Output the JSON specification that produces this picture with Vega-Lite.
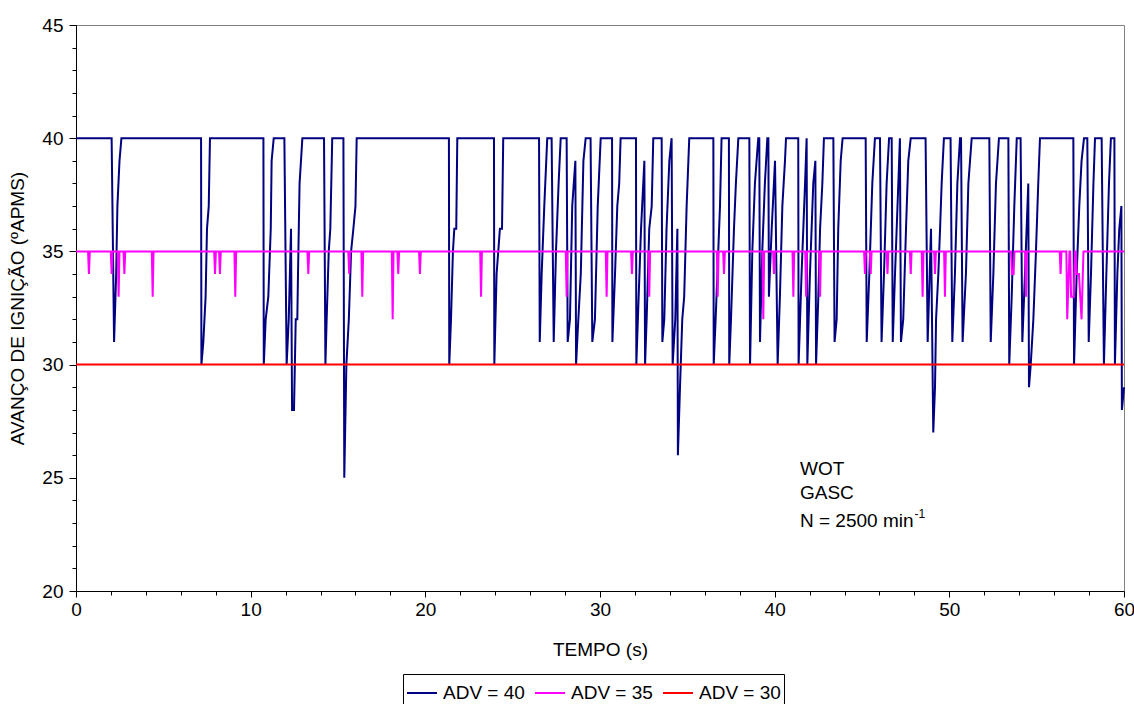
{
  "$schema": "https://vega.github.io/schema/vega-lite/v6.json",
  "width": 1048,
  "height": 566,
  "autosize": "none",
  "padding": {"left": 76, "top": 25, "right": 10, "bottom": 113},
  "background": "white",
  "config": {
    "font": "Liberation Sans",
    "view": {"stroke": "#808080", "strokeWidth": 1},
    "axis": {"grid": false, "domainColor": "black", "tickColor": "black", "labelColor": "black", "titleColor": "black", "titleFontWeight": "normal", "labelFontSize": 19, "titleFontSize": 19, "labelFlush": false, "labelOverlap": false}
  },
  "datasets": {
    "blue": [
      {"s":"ADV = 40","t":0,"v":40},
      {"s":"ADV = 40","t":2.04,"v":40},{"s":"ADV = 40","t":2.18,"v":31},{"s":"ADV = 40","t":2.3,"v":34},{"s":"ADV = 40","t":2.37,"v":37},{"s":"ADV = 40","t":2.49,"v":39},{"s":"ADV = 40","t":2.6,"v":40},
      {"s":"ADV = 40","t":7.16,"v":40},{"s":"ADV = 40","t":7.18,"v":30},{"s":"ADV = 40","t":7.29,"v":31},{"s":"ADV = 40","t":7.42,"v":33},{"s":"ADV = 40","t":7.5,"v":36},{"s":"ADV = 40","t":7.6,"v":37},{"s":"ADV = 40","t":7.67,"v":40},
      {"s":"ADV = 40","t":10.73,"v":40},{"s":"ADV = 40","t":10.75,"v":30},{"s":"ADV = 40","t":10.86,"v":32},{"s":"ADV = 40","t":11.01,"v":33},{"s":"ADV = 40","t":11.15,"v":36},{"s":"ADV = 40","t":11.2,"v":39},{"s":"ADV = 40","t":11.32,"v":40},
      {"s":"ADV = 40","t":11.93,"v":40},{"s":"ADV = 40","t":12.06,"v":30},{"s":"ADV = 40","t":12.18,"v":32},{"s":"ADV = 40","t":12.31,"v":36},{"s":"ADV = 40","t":12.37,"v":28},{"s":"ADV = 40","t":12.48,"v":28},{"s":"ADV = 40","t":12.58,"v":32},{"s":"ADV = 40","t":12.67,"v":32},{"s":"ADV = 40","t":12.71,"v":34},{"s":"ADV = 40","t":12.8,"v":38},{"s":"ADV = 40","t":12.96,"v":40},
      {"s":"ADV = 40","t":14.2,"v":40},{"s":"ADV = 40","t":14.28,"v":30},{"s":"ADV = 40","t":14.35,"v":32},{"s":"ADV = 40","t":14.47,"v":35},{"s":"ADV = 40","t":14.56,"v":36},{"s":"ADV = 40","t":14.67,"v":40},
      {"s":"ADV = 40","t":15.31,"v":40},{"s":"ADV = 40","t":15.36,"v":25},{"s":"ADV = 40","t":15.48,"v":30},{"s":"ADV = 40","t":15.62,"v":32},{"s":"ADV = 40","t":15.75,"v":35},{"s":"ADV = 40","t":15.88,"v":36},{"s":"ADV = 40","t":16.0,"v":37},{"s":"ADV = 40","t":16.07,"v":40},
      {"s":"ADV = 40","t":21.35,"v":40},{"s":"ADV = 40","t":21.37,"v":30},{"s":"ADV = 40","t":21.47,"v":32},{"s":"ADV = 40","t":21.58,"v":35},{"s":"ADV = 40","t":21.66,"v":36},{"s":"ADV = 40","t":21.77,"v":36},{"s":"ADV = 40","t":21.83,"v":40},
      {"s":"ADV = 40","t":23.93,"v":40},{"s":"ADV = 40","t":23.95,"v":30},{"s":"ADV = 40","t":24.08,"v":34},{"s":"ADV = 40","t":24.27,"v":36},{"s":"ADV = 40","t":24.39,"v":36},{"s":"ADV = 40","t":24.46,"v":40},
      {"s":"ADV = 40","t":26.51,"v":40},{"s":"ADV = 40","t":26.55,"v":31},{"s":"ADV = 40","t":26.66,"v":34},{"s":"ADV = 40","t":26.81,"v":37},{"s":"ADV = 40","t":26.98,"v":40},
      {"s":"ADV = 40","t":27.23,"v":40},{"s":"ADV = 40","t":27.35,"v":31},{"s":"ADV = 40","t":27.48,"v":35},{"s":"ADV = 40","t":27.63,"v":38},{"s":"ADV = 40","t":27.75,"v":40},
      {"s":"ADV = 40","t":28.09,"v":40},{"s":"ADV = 40","t":28.15,"v":31},{"s":"ADV = 40","t":28.28,"v":32},{"s":"ADV = 40","t":28.41,"v":37},{"s":"ADV = 40","t":28.59,"v":39},{"s":"ADV = 40","t":28.63,"v":30},{"s":"ADV = 40","t":28.76,"v":32},{"s":"ADV = 40","t":28.9,"v":34},{"s":"ADV = 40","t":29.05,"v":39},{"s":"ADV = 40","t":29.18,"v":40},
      {"s":"ADV = 40","t":29.46,"v":40},{"s":"ADV = 40","t":29.56,"v":31},{"s":"ADV = 40","t":29.71,"v":32},{"s":"ADV = 40","t":29.87,"v":37},{"s":"ADV = 40","t":30.04,"v":40},
      {"s":"ADV = 40","t":30.69,"v":40},{"s":"ADV = 40","t":30.71,"v":31},{"s":"ADV = 40","t":30.86,"v":34},{"s":"ADV = 40","t":30.99,"v":37},{"s":"ADV = 40","t":31.1,"v":38},{"s":"ADV = 40","t":31.18,"v":40},
      {"s":"ADV = 40","t":32.06,"v":40},{"s":"ADV = 40","t":32.08,"v":30},{"s":"ADV = 40","t":32.19,"v":32.5},{"s":"ADV = 40","t":32.35,"v":36},{"s":"ADV = 40","t":32.54,"v":39},{"s":"ADV = 40","t":32.58,"v":30},{"s":"ADV = 40","t":32.67,"v":32},{"s":"ADV = 40","t":32.82,"v":36},{"s":"ADV = 40","t":32.96,"v":37},{"s":"ADV = 40","t":33.05,"v":40},
      {"s":"ADV = 40","t":33.53,"v":40},{"s":"ADV = 40","t":33.57,"v":31},{"s":"ADV = 40","t":33.68,"v":32},{"s":"ADV = 40","t":33.81,"v":36},{"s":"ADV = 40","t":33.97,"v":39},{"s":"ADV = 40","t":34.1,"v":40},{"s":"ADV = 40","t":34.16,"v":30},{"s":"ADV = 40","t":34.31,"v":32},{"s":"ADV = 40","t":34.43,"v":36},{"s":"ADV = 40","t":34.46,"v":26},{"s":"ADV = 40","t":34.58,"v":29},{"s":"ADV = 40","t":34.71,"v":32},{"s":"ADV = 40","t":34.82,"v":33},{"s":"ADV = 40","t":34.96,"v":37},{"s":"ADV = 40","t":35.06,"v":39},{"s":"ADV = 40","t":35.11,"v":40},
      {"s":"ADV = 40","t":36.49,"v":40},{"s":"ADV = 40","t":36.51,"v":30},{"s":"ADV = 40","t":36.62,"v":32},{"s":"ADV = 40","t":36.77,"v":35},{"s":"ADV = 40","t":36.87,"v":37},{"s":"ADV = 40","t":36.96,"v":40},
      {"s":"ADV = 40","t":37.38,"v":40},{"s":"ADV = 40","t":37.4,"v":30},{"s":"ADV = 40","t":37.5,"v":32},{"s":"ADV = 40","t":37.67,"v":36},{"s":"ADV = 40","t":37.78,"v":38},{"s":"ADV = 40","t":37.92,"v":40},
      {"s":"ADV = 40","t":38.55,"v":40},{"s":"ADV = 40","t":38.59,"v":30},{"s":"ADV = 40","t":38.72,"v":35},{"s":"ADV = 40","t":38.87,"v":38},{"s":"ADV = 40","t":39.06,"v":40},{"s":"ADV = 40","t":39.12,"v":40},{"s":"ADV = 40","t":39.16,"v":31},{"s":"ADV = 40","t":39.29,"v":35},{"s":"ADV = 40","t":39.44,"v":38},{"s":"ADV = 40","t":39.58,"v":40},{"s":"ADV = 40","t":39.64,"v":40},{"s":"ADV = 40","t":39.67,"v":33},{"s":"ADV = 40","t":39.83,"v":36},{"s":"ADV = 40","t":40.02,"v":39},{"s":"ADV = 40","t":40.17,"v":30},{"s":"ADV = 40","t":40.3,"v":33},{"s":"ADV = 40","t":40.44,"v":37},{"s":"ADV = 40","t":40.59,"v":39},{"s":"ADV = 40","t":40.65,"v":40},
      {"s":"ADV = 40","t":41.35,"v":40},{"s":"ADV = 40","t":41.37,"v":30},{"s":"ADV = 40","t":41.54,"v":34},{"s":"ADV = 40","t":41.74,"v":38},{"s":"ADV = 40","t":41.83,"v":40},{"s":"ADV = 40","t":41.87,"v":30},{"s":"ADV = 40","t":42.02,"v":34},{"s":"ADV = 40","t":42.21,"v":38},{"s":"ADV = 40","t":42.33,"v":39},{"s":"ADV = 40","t":42.37,"v":30},{"s":"ADV = 40","t":42.5,"v":33},{"s":"ADV = 40","t":42.6,"v":36},{"s":"ADV = 40","t":42.73,"v":38},{"s":"ADV = 40","t":42.82,"v":40},
      {"s":"ADV = 40","t":43.36,"v":40},{"s":"ADV = 40","t":43.43,"v":31},{"s":"ADV = 40","t":43.55,"v":32},{"s":"ADV = 40","t":43.64,"v":36},{"s":"ADV = 40","t":43.78,"v":39},{"s":"ADV = 40","t":43.89,"v":40},
      {"s":"ADV = 40","t":45.21,"v":40},{"s":"ADV = 40","t":45.27,"v":31},{"s":"ADV = 40","t":45.42,"v":34},{"s":"ADV = 40","t":45.59,"v":38},{"s":"ADV = 40","t":45.74,"v":40},
      {"s":"ADV = 40","t":46.03,"v":40},{"s":"ADV = 40","t":46.12,"v":31},{"s":"ADV = 40","t":46.26,"v":34},{"s":"ADV = 40","t":46.41,"v":38},{"s":"ADV = 40","t":46.55,"v":40},{"s":"ADV = 40","t":46.7,"v":40},{"s":"ADV = 40","t":46.76,"v":31},{"s":"ADV = 40","t":46.89,"v":34},{"s":"ADV = 40","t":47.08,"v":38},{"s":"ADV = 40","t":47.17,"v":40},{"s":"ADV = 40","t":47.23,"v":31},{"s":"ADV = 40","t":47.36,"v":32},{"s":"ADV = 40","t":47.52,"v":36},{"s":"ADV = 40","t":47.65,"v":39},{"s":"ADV = 40","t":47.79,"v":40},
      {"s":"ADV = 40","t":48.64,"v":40},{"s":"ADV = 40","t":48.76,"v":31},{"s":"ADV = 40","t":48.95,"v":36},{"s":"ADV = 40","t":49.08,"v":27},{"s":"ADV = 40","t":49.18,"v":29},{"s":"ADV = 40","t":49.24,"v":32},{"s":"ADV = 40","t":49.37,"v":34},{"s":"ADV = 40","t":49.47,"v":36},{"s":"ADV = 40","t":49.56,"v":38},{"s":"ADV = 40","t":49.69,"v":40},
      {"s":"ADV = 40","t":50.07,"v":40},{"s":"ADV = 40","t":50.17,"v":31},{"s":"ADV = 40","t":50.32,"v":34},{"s":"ADV = 40","t":50.46,"v":38},{"s":"ADV = 40","t":50.61,"v":40},
      {"s":"ADV = 40","t":50.67,"v":40},{"s":"ADV = 40","t":50.76,"v":31},{"s":"ADV = 40","t":50.95,"v":34},{"s":"ADV = 40","t":51.09,"v":38},{"s":"ADV = 40","t":51.28,"v":40},
      {"s":"ADV = 40","t":52.29,"v":40},{"s":"ADV = 40","t":52.37,"v":31},{"s":"ADV = 40","t":52.52,"v":34},{"s":"ADV = 40","t":52.67,"v":38},{"s":"ADV = 40","t":52.84,"v":40},
      {"s":"ADV = 40","t":53.38,"v":40},{"s":"ADV = 40","t":53.43,"v":30},{"s":"ADV = 40","t":53.57,"v":33},{"s":"ADV = 40","t":53.72,"v":37},{"s":"ADV = 40","t":53.86,"v":40},
      {"s":"ADV = 40","t":54.08,"v":40},{"s":"ADV = 40","t":54.18,"v":31},{"s":"ADV = 40","t":54.33,"v":34},{"s":"ADV = 40","t":54.52,"v":38},{"s":"ADV = 40","t":54.56,"v":29},{"s":"ADV = 40","t":54.66,"v":30},{"s":"ADV = 40","t":54.81,"v":32},{"s":"ADV = 40","t":54.96,"v":35},{"s":"ADV = 40","t":55.09,"v":38},{"s":"ADV = 40","t":55.19,"v":40},
      {"s":"ADV = 40","t":57.1,"v":40},{"s":"ADV = 40","t":57.14,"v":30},{"s":"ADV = 40","t":57.29,"v":34},{"s":"ADV = 40","t":57.44,"v":37},{"s":"ADV = 40","t":57.57,"v":39},{"s":"ADV = 40","t":57.71,"v":40},
      {"s":"ADV = 40","t":57.9,"v":40},{"s":"ADV = 40","t":57.98,"v":31},{"s":"ADV = 40","t":58.11,"v":34},{"s":"ADV = 40","t":58.25,"v":38},{"s":"ADV = 40","t":58.34,"v":40},
      {"s":"ADV = 40","t":58.72,"v":40},{"s":"ADV = 40","t":58.85,"v":30},{"s":"ADV = 40","t":58.99,"v":34},{"s":"ADV = 40","t":59.14,"v":38},{"s":"ADV = 40","t":59.25,"v":40},
      {"s":"ADV = 40","t":59.45,"v":40},{"s":"ADV = 40","t":59.48,"v":30},{"s":"ADV = 40","t":59.62,"v":34},{"s":"ADV = 40","t":59.73,"v":36},{"s":"ADV = 40","t":59.85,"v":37},{"s":"ADV = 40","t":59.88,"v":28},{"s":"ADV = 40","t":60,"v":29}
    ],
    "magenta": [
      {"s":"ADV = 35","t":0,"v":35},
      {"s":"ADV = 35","t":0.69,"v":35},{"s":"ADV = 35","t":0.74,"v":34},{"s":"ADV = 35","t":0.79,"v":35},
      {"s":"ADV = 35","t":1.99,"v":35},{"s":"ADV = 35","t":2.04,"v":34},{"s":"ADV = 35","t":2.09,"v":35},
      {"s":"ADV = 35","t":2.39,"v":35},{"s":"ADV = 35","t":2.44,"v":33},{"s":"ADV = 35","t":2.49,"v":35},
      {"s":"ADV = 35","t":2.72,"v":35},{"s":"ADV = 35","t":2.77,"v":34},{"s":"ADV = 35","t":2.82,"v":35},
      {"s":"ADV = 35","t":4.34,"v":35},{"s":"ADV = 35","t":4.39,"v":33},{"s":"ADV = 35","t":4.44,"v":35},
      {"s":"ADV = 35","t":7.91,"v":35},{"s":"ADV = 35","t":7.96,"v":34},{"s":"ADV = 35","t":8.01,"v":35},
      {"s":"ADV = 35","t":8.19,"v":35},{"s":"ADV = 35","t":8.24,"v":34},{"s":"ADV = 35","t":8.29,"v":35},
      {"s":"ADV = 35","t":9.07,"v":35},{"s":"ADV = 35","t":9.12,"v":33},{"s":"ADV = 35","t":9.17,"v":35},
      {"s":"ADV = 35","t":13.25,"v":35},{"s":"ADV = 35","t":13.3,"v":34},{"s":"ADV = 35","t":13.35,"v":35},
      {"s":"ADV = 35","t":15.59,"v":35},{"s":"ADV = 35","t":15.64,"v":34},{"s":"ADV = 35","t":15.69,"v":35},
      {"s":"ADV = 35","t":16.34,"v":35},{"s":"ADV = 35","t":16.39,"v":33},{"s":"ADV = 35","t":16.44,"v":35},
      {"s":"ADV = 35","t":18.08,"v":35},{"s":"ADV = 35","t":18.13,"v":32},{"s":"ADV = 35","t":18.18,"v":35},
      {"s":"ADV = 35","t":18.4,"v":35},{"s":"ADV = 35","t":18.45,"v":34},{"s":"ADV = 35","t":18.5,"v":35},
      {"s":"ADV = 35","t":19.64,"v":35},{"s":"ADV = 35","t":19.69,"v":34},{"s":"ADV = 35","t":19.74,"v":35},
      {"s":"ADV = 35","t":23.14,"v":35},{"s":"ADV = 35","t":23.19,"v":33},{"s":"ADV = 35","t":23.24,"v":35},
      {"s":"ADV = 35","t":28.04,"v":35},{"s":"ADV = 35","t":28.09,"v":33},{"s":"ADV = 35","t":28.14,"v":35},
      {"s":"ADV = 35","t":30.33,"v":35},{"s":"ADV = 35","t":30.38,"v":33},{"s":"ADV = 35","t":30.43,"v":35},
      {"s":"ADV = 35","t":31.78,"v":35},{"s":"ADV = 35","t":31.83,"v":34},{"s":"ADV = 35","t":31.88,"v":35},
      {"s":"ADV = 35","t":32.77,"v":35},{"s":"ADV = 35","t":32.82,"v":33},{"s":"ADV = 35","t":32.87,"v":35},
      {"s":"ADV = 35","t":36.69,"v":35},{"s":"ADV = 35","t":36.74,"v":33},{"s":"ADV = 35","t":36.79,"v":35},
      {"s":"ADV = 35","t":37.05,"v":35},{"s":"ADV = 35","t":37.1,"v":34},{"s":"ADV = 35","t":37.15,"v":35},
      {"s":"ADV = 35","t":39.3,"v":35},{"s":"ADV = 35","t":39.35,"v":32},{"s":"ADV = 35","t":39.4,"v":35},
      {"s":"ADV = 35","t":39.91,"v":35},{"s":"ADV = 35","t":39.96,"v":34},{"s":"ADV = 35","t":40.01,"v":35},
      {"s":"ADV = 35","t":41.02,"v":35},{"s":"ADV = 35","t":41.07,"v":33},{"s":"ADV = 35","t":41.12,"v":35},
      {"s":"ADV = 35","t":41.75,"v":35},{"s":"ADV = 35","t":41.8,"v":33},{"s":"ADV = 35","t":41.85,"v":35},
      {"s":"ADV = 35","t":42.55,"v":35},{"s":"ADV = 35","t":42.6,"v":33},{"s":"ADV = 35","t":42.65,"v":35},
      {"s":"ADV = 35","t":45.12,"v":35},{"s":"ADV = 35","t":45.17,"v":34},{"s":"ADV = 35","t":45.22,"v":35},
      {"s":"ADV = 35","t":45.45,"v":35},{"s":"ADV = 35","t":45.5,"v":34},{"s":"ADV = 35","t":45.55,"v":35},
      {"s":"ADV = 35","t":46.41,"v":35},{"s":"ADV = 35","t":46.46,"v":34},{"s":"ADV = 35","t":46.51,"v":35},
      {"s":"ADV = 35","t":47.74,"v":35},{"s":"ADV = 35","t":47.79,"v":34},{"s":"ADV = 35","t":47.84,"v":35},
      {"s":"ADV = 35","t":48.42,"v":35},{"s":"ADV = 35","t":48.47,"v":33},{"s":"ADV = 35","t":48.52,"v":35},
      {"s":"ADV = 35","t":49.13,"v":35},{"s":"ADV = 35","t":49.18,"v":34},{"s":"ADV = 35","t":49.23,"v":35},
      {"s":"ADV = 35","t":49.7,"v":35},{"s":"ADV = 35","t":49.75,"v":33},{"s":"ADV = 35","t":49.8,"v":35},
      {"s":"ADV = 35","t":53.53,"v":35},{"s":"ADV = 35","t":53.58,"v":34},{"s":"ADV = 35","t":53.68,"v":34},{"s":"ADV = 35","t":53.73,"v":35},
      {"s":"ADV = 35","t":54.34,"v":35},{"s":"ADV = 35","t":54.39,"v":33},{"s":"ADV = 35","t":54.44,"v":35},
      {"s":"ADV = 35","t":56.32,"v":35},{"s":"ADV = 35","t":56.37,"v":34},{"s":"ADV = 35","t":56.42,"v":35},
      {"s":"ADV = 35","t":56.7,"v":35},{"s":"ADV = 35","t":56.75,"v":32},{"s":"ADV = 35","t":56.88,"v":35},{"s":"ADV = 35","t":56.92,"v":35},{"s":"ADV = 35","t":56.97,"v":33},{"s":"ADV = 35","t":57.12,"v":33},{"s":"ADV = 35","t":57.19,"v":35},{"s":"ADV = 35","t":57.24,"v":35},{"s":"ADV = 35","t":57.29,"v":34},{"s":"ADV = 35","t":57.42,"v":34},{"s":"ADV = 35","t":57.57,"v":32},{"s":"ADV = 35","t":57.68,"v":35},
      {"s":"ADV = 35","t":60,"v":35}
    ],
    "red": [{"s":"ADV = 30","t":0,"v":30},{"s":"ADV = 30","t":60,"v":30}],
    "notes": [
      {"t":41.45,"v":25.39,"label":"WOT"},
      {"t":41.45,"v":24.33,"label":"GASC"},
      {"t":41.45,"v":23.09,"label":"N = 2500 min"}
    ],
    "sup": [{"t":48.0,"v":23.42,"label":"-1"}]
  },
  "encoding": {
    "x": {"field": "t", "type": "quantitative", "scale": {"domain": [0, 60], "nice": false, "zero": false},
      "axis": {"title": "TEMPO (s)", "values": [0,2,4,6,8,10,12,14,16,18,20,22,24,26,28,30,32,34,36,38,40,42,44,46,48,50,52,54,56,58,60],
        "labelExpr": "datum.value % 10 === 0 ? datum.label : ''",
        "tickSize": {"condition": {"test": "datum.value % 10 === 0", "value": 6}, "value": 4},
        "labelPadding": 3, "titlePadding": 21}},
    "y": {"field": "v", "type": "quantitative", "scale": {"domain": [20, 45], "nice": false, "zero": false},
      "axis": {"title": "AVANÇO DE IGNIÇÃO (ºAPMS)", "values": [20,21,22,23,24,25,26,27,28,29,30,31,32,33,34,35,36,37,38,39,40,41,42,43,44,45],
        "labelExpr": "datum.value % 5 === 0 ? datum.label : ''",
        "tickSize": {"condition": {"test": "datum.value % 5 === 0", "value": 7}, "value": 4},
        "labelPadding": 6, "titlePadding": 14}}
  },
  "layer": [
    {
      "data": {"name": "blue"},
      "mark": {"type": "line", "strokeWidth": 2},
      "encoding": {
        "color": {"field": "s", "type": "nominal",
          "scale": {"domain": ["ADV = 40", "ADV = 35", "ADV = 30"], "range": ["#000080", "#FF00FF", "#FF0000"]},
          "legend": {"orient": "none", "legendX": 327, "legendY": 649, "direction": "horizontal", "title": null,
            "strokeColor": "black", "fillColor": "white", "padding": 3,
            "symbolType": "stroke", "symbolStrokeWidth": 2, "symbolSize": 900,
            "labelFontSize": 19, "labelColor": "black", "labelOffset": 5, "columnPadding": 6}}
      }
    },
    {
      "data": {"name": "magenta"},
      "mark": {"type": "line", "strokeWidth": 2},
      "encoding": {"color": {"field": "s", "type": "nominal"}}
    },
    {
      "data": {"name": "red"},
      "mark": {"type": "line", "strokeWidth": 2},
      "encoding": {"color": {"field": "s", "type": "nominal"}}
    },
    {
      "data": {"name": "notes"},
      "mark": {"type": "text", "align": "left", "baseline": "middle", "fontSize": 19, "color": "black"},
      "encoding": {"text": {"field": "label", "type": "nominal"}}
    },
    {
      "data": {"name": "sup"},
      "mark": {"type": "text", "align": "left", "baseline": "middle", "fontSize": 12, "color": "black"},
      "encoding": {"text": {"field": "label", "type": "nominal"}}
    }
  ]
}
